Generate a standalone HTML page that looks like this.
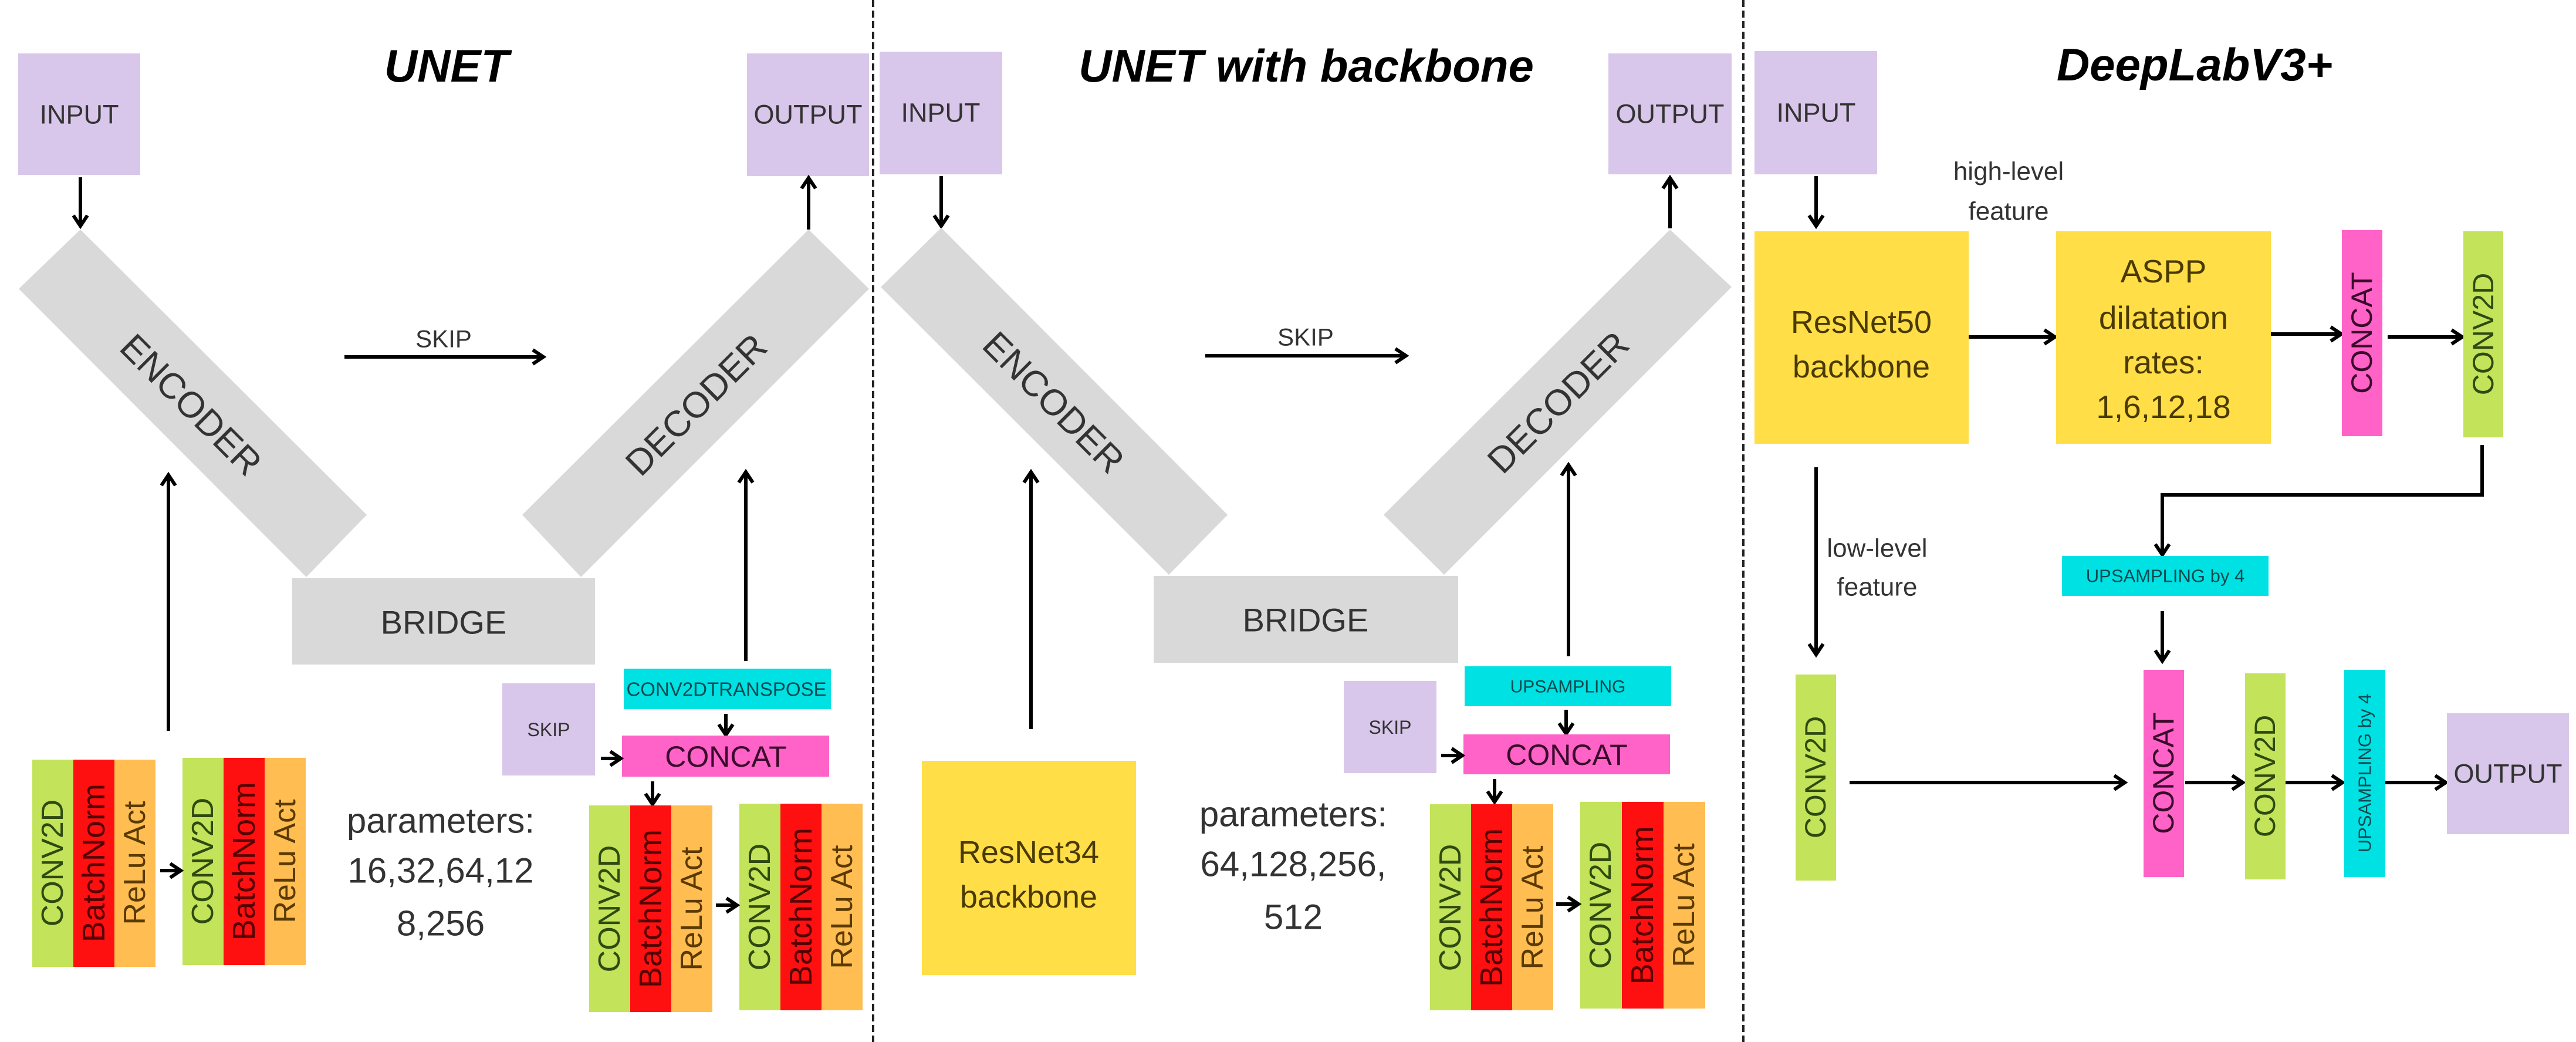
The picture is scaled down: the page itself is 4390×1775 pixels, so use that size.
<!DOCTYPE html>
<html><head><meta charset="utf-8"><style>
html,body{margin:0;padding:0;background:#fff}
svg{display:block}
text{font-family:"Liberation Sans",sans-serif;fill:#333}
.t{font-weight:bold;font-style:italic;fill:#000;font-size:78px}
.c{text-anchor:middle;dominant-baseline:central}
.ln{stroke:#000;stroke-width:6;fill:none}
</style></head><body>
<svg width="4390" height="1775" viewBox="0 0 4390 1775" xmlns="http://www.w3.org/2000/svg">
<defs>
<marker id="a" viewBox="0 0 30 30" markerWidth="30" markerHeight="30" refX="24" refY="15" orient="auto" markerUnits="userSpaceOnUse">
<path d="M6,3 L24,15 L6,27" stroke="#000" stroke-width="6" fill="none"/>
</marker>
</defs>

<!-- dashed separators -->
<line x1="1488" y1="0" x2="1488" y2="1775" stroke="#222" stroke-width="4" stroke-dasharray="12,6"/>
<line x1="2971" y1="0" x2="2971" y2="1775" stroke="#222" stroke-width="4" stroke-dasharray="12,6"/>

<!-- ===== UNET ===== -->
<text class="t c" x="761" y="112">UNET</text>
<rect x="31" y="91" width="208" height="207" fill="#d8c7ea"/>
<text class="c" x="135" y="195" font-size="45">INPUT</text>
<rect x="1273" y="91" width="208" height="209" fill="#d8c7ea"/>
<text class="c" x="1377" y="195" font-size="45">OUTPUT</text>
<line class="ln" x1="137" y1="302" x2="137" y2="385" marker-end="url(#a)"/>
<line class="ln" x1="1378" y1="391" x2="1378" y2="303" marker-end="url(#a)"/>
<polygon points="32,492 137,391 625,877 522,983" fill="#d9d9d9"/>
<polygon points="890,877 990,983 1481,492 1378,391" fill="#d9d9d9"/>
<text class="c" x="325" y="690" font-size="62" transform="rotate(45 325 690)">ENCODER</text>
<text class="c" x="1187" y="690" font-size="62" transform="rotate(-45 1187 690)">DECODER</text>
<line class="ln" x1="587" y1="608" x2="926" y2="608" marker-end="url(#a)"/>
<text class="c" x="756" y="577" font-size="42">SKIP</text>
<rect x="498" y="985" width="516" height="147" fill="#d9d9d9"/>
<text class="c" x="756" y="1060" font-size="56">BRIDGE</text>
<line class="ln" x1="287" y1="1245" x2="287" y2="809" marker-end="url(#a)"/>
<line class="ln" x1="1271" y1="1126" x2="1271" y2="804" marker-end="url(#a)"/>
<rect x="1063" y="1139" width="353" height="69" fill="#00e1e3"/>
<text class="c" x="1238" y="1174" font-size="33" fill="#0a4a50" style="fill:#0a4a50">CONV2DTRANSPOSE</text>
<rect x="856" y="1164" width="158" height="157" fill="#d8c7ea"/>
<text class="c" x="935" y="1243" font-size="32">SKIP</text>
<line class="ln" x1="1237" y1="1216" x2="1237" y2="1252" marker-end="url(#a)"/>
<rect x="1060" y="1253" width="353" height="70" fill="#ff63c8"/>
<text class="c" x="1237" y="1289" font-size="50" style="fill:#3a0a2a">CONCAT</text>
<line class="ln" x1="1024" y1="1292" x2="1058" y2="1292" marker-end="url(#a)"/>
<line class="ln" x1="1112" y1="1331" x2="1112" y2="1370" marker-end="url(#a)"/>

<!-- triples UNET left -->
<g transform="translate(55,1294)">
<rect x="0" y="0" width="70" height="353" fill="#c2e35a"/><rect x="70" y="0" width="70" height="353" fill="#ff1010"/><rect x="140" y="0" width="70" height="353" fill="#ffbd52"/>
<text class="c" x="35" y="176" font-size="52" transform="rotate(-90 35 176)" style="fill:#2f4a10">CONV2D</text>
<text class="c" x="105" y="176" font-size="54" transform="rotate(-90 105 176)" style="fill:#500">BatchNorm</text>
<text class="c" x="175" y="176" font-size="52" transform="rotate(-90 175 176)" style="fill:#5a3a00">ReLu Act</text>
</g>
<g transform="translate(311,1291)">
<rect x="0" y="0" width="70" height="353" fill="#c2e35a"/><rect x="70" y="0" width="70" height="353" fill="#ff1010"/><rect x="140" y="0" width="70" height="353" fill="#ffbd52"/>
<text class="c" x="35" y="176" font-size="52" transform="rotate(-90 35 176)" style="fill:#2f4a10">CONV2D</text>
<text class="c" x="105" y="176" font-size="54" transform="rotate(-90 105 176)" style="fill:#500">BatchNorm</text>
<text class="c" x="175" y="176" font-size="52" transform="rotate(-90 175 176)" style="fill:#5a3a00">ReLu Act</text>
</g>
<line class="ln" x1="273" y1="1483" x2="308" y2="1483" marker-end="url(#a)"/>
<text class="c" x="751" y="1398" font-size="60">parameters:</text>
<text class="c" x="751" y="1483" font-size="60">16,32,64,12</text>
<text class="c" x="751" y="1573" font-size="60">8,256</text>
<!-- triples UNET right -->
<g transform="translate(1004,1372)">
<rect x="0" y="0" width="70" height="352" fill="#c2e35a"/><rect x="70" y="0" width="70" height="352" fill="#ff1010"/><rect x="140" y="0" width="70" height="352" fill="#ffbd52"/>
<text class="c" x="35" y="176" font-size="52" transform="rotate(-90 35 176)" style="fill:#2f4a10">CONV2D</text>
<text class="c" x="105" y="176" font-size="54" transform="rotate(-90 105 176)" style="fill:#500">BatchNorm</text>
<text class="c" x="175" y="176" font-size="52" transform="rotate(-90 175 176)" style="fill:#5a3a00">ReLu Act</text>
</g>
<g transform="translate(1260,1369)">
<rect x="0" y="0" width="70" height="352" fill="#c2e35a"/><rect x="70" y="0" width="70" height="352" fill="#ff1010"/><rect x="140" y="0" width="70" height="352" fill="#ffbd52"/>
<text class="c" x="35" y="176" font-size="52" transform="rotate(-90 35 176)" style="fill:#2f4a10">CONV2D</text>
<text class="c" x="105" y="176" font-size="54" transform="rotate(-90 105 176)" style="fill:#500">BatchNorm</text>
<text class="c" x="175" y="176" font-size="52" transform="rotate(-90 175 176)" style="fill:#5a3a00">ReLu Act</text>
</g>
<line class="ln" x1="1220" y1="1542" x2="1256" y2="1542" marker-end="url(#a)"/>

<!-- ===== UNET with backbone ===== -->
<text class="t c" x="2226" y="112">UNET with backbone</text>
<rect x="1499" y="88" width="209" height="209" fill="#d8c7ea"/>
<text class="c" x="1603" y="192" font-size="45">INPUT</text>
<rect x="2741" y="91" width="210" height="206" fill="#d8c7ea"/>
<text class="c" x="2846" y="194" font-size="45">OUTPUT</text>
<line class="ln" x1="1604" y1="300" x2="1604" y2="385" marker-end="url(#a)"/>
<line class="ln" x1="2846" y1="389" x2="2846" y2="303" marker-end="url(#a)"/>
<polygon points="1501,489 1604,388 2092,877 1992,979" fill="#d9d9d9"/>
<polygon points="2358,877 2461,979 2951,489 2846,391" fill="#d9d9d9"/>
<text class="c" x="1795" y="686" font-size="62" transform="rotate(45 1795 686)">ENCODER</text>
<text class="c" x="2656" y="686" font-size="62" transform="rotate(-45 2656 686)">DECODER</text>
<line class="ln" x1="2054" y1="606" x2="2396" y2="606" marker-end="url(#a)"/>
<text class="c" x="2225" y="574" font-size="42">SKIP</text>
<rect x="1966" y="981" width="519" height="148" fill="#d9d9d9"/>
<text class="c" x="2225" y="1056" font-size="56">BRIDGE</text>
<line class="ln" x1="1757" y1="1242" x2="1757" y2="804" marker-end="url(#a)"/>
<rect x="1571" y="1296" width="365" height="365" fill="#ffde47"/>
<text class="c" x="1753" y="1452" font-size="54" style="fill:#4a3a00">ResNet34</text>
<text class="c" x="1753" y="1528" font-size="54" style="fill:#4a3a00">backbone</text>
<line class="ln" x1="2673" y1="1118" x2="2673" y2="792" marker-end="url(#a)"/>
<rect x="2496" y="1135" width="352" height="68" fill="#00e1e3"/>
<text class="c" x="2672" y="1170" font-size="30" style="fill:#0a4a50">UPSAMPLING</text>
<rect x="2290" y="1160" width="158" height="157" fill="#d8c7ea"/>
<text class="c" x="2369" y="1239" font-size="32">SKIP</text>
<line class="ln" x1="2669" y1="1209" x2="2669" y2="1250" marker-end="url(#a)"/>
<rect x="2494" y="1251" width="352" height="68" fill="#ff63c8"/>
<text class="c" x="2670" y="1286" font-size="50" style="fill:#3a0a2a">CONCAT</text>
<line class="ln" x1="2456" y1="1287" x2="2492" y2="1287" marker-end="url(#a)"/>
<line class="ln" x1="2547" y1="1327" x2="2547" y2="1366" marker-end="url(#a)"/>
<g transform="translate(2437,1370)">
<rect x="0" y="0" width="70" height="351" fill="#c2e35a"/><rect x="70" y="0" width="70" height="351" fill="#ff1010"/><rect x="140" y="0" width="70" height="351" fill="#ffbd52"/>
<text class="c" x="35" y="176" font-size="52" transform="rotate(-90 35 176)" style="fill:#2f4a10">CONV2D</text>
<text class="c" x="105" y="176" font-size="54" transform="rotate(-90 105 176)" style="fill:#500">BatchNorm</text>
<text class="c" x="175" y="176" font-size="52" transform="rotate(-90 175 176)" style="fill:#5a3a00">ReLu Act</text>
</g>
<g transform="translate(2693,1366)">
<rect x="0" y="0" width="71" height="352" fill="#c2e35a"/><rect x="71" y="0" width="71" height="352" fill="#ff1010"/><rect x="142" y="0" width="71" height="352" fill="#ffbd52"/>
<text class="c" x="35" y="176" font-size="52" transform="rotate(-90 35 176)" style="fill:#2f4a10">CONV2D</text>
<text class="c" x="106" y="176" font-size="54" transform="rotate(-90 106 176)" style="fill:#500">BatchNorm</text>
<text class="c" x="177" y="176" font-size="52" transform="rotate(-90 177 176)" style="fill:#5a3a00">ReLu Act</text>
</g>
<line class="ln" x1="2652" y1="1540" x2="2690" y2="1540" marker-end="url(#a)"/>
<text class="c" x="2204" y="1387" font-size="60">parameters:</text>
<text class="c" x="2204" y="1472" font-size="60">64,128,256,</text>
<text class="c" x="2204" y="1562" font-size="60">512</text>

<!-- ===== DeepLabV3+ ===== -->
<text class="t c" x="3740" y="110">DeepLabV3+</text>
<rect x="2990" y="87" width="209" height="210" fill="#d8c7ea"/>
<text class="c" x="3095" y="192" font-size="45">INPUT</text>
<line class="ln" x1="3095" y1="300" x2="3095" y2="385" marker-end="url(#a)"/>
<text class="c" x="3423" y="292" font-size="44">high-level</text>
<text class="c" x="3423" y="360" font-size="44">feature</text>
<rect x="2990" y="394" width="365" height="362" fill="#ffde47"/>
<text class="c" x="3172" y="549" font-size="54" style="fill:#4a3a00">ResNet50</text>
<text class="c" x="3172" y="625" font-size="54" style="fill:#4a3a00">backbone</text>
<line class="ln" x1="3355" y1="574" x2="3502" y2="574" marker-end="url(#a)"/>
<rect x="3504" y="394" width="366" height="362" fill="#ffde47"/>
<text class="c" x="3687" y="462" font-size="55" style="fill:#4a3a00">ASPP</text>
<text class="c" x="3687" y="541" font-size="55" style="fill:#4a3a00">dilatation</text>
<text class="c" x="3687" y="617" font-size="55" style="fill:#4a3a00">rates:</text>
<text class="c" x="3687" y="693" font-size="55" style="fill:#4a3a00">1,6,12,18</text>
<line class="ln" x1="3870" y1="569" x2="3990" y2="569" marker-end="url(#a)"/>
<rect x="3991" y="392" width="69" height="351" fill="#ff63c8"/>
<text class="c" x="4025" y="567" font-size="50" transform="rotate(-90 4025 567)" style="fill:#3a0a2a">CONCAT</text>
<line class="ln" x1="4069" y1="574" x2="4196" y2="574" marker-end="url(#a)"/>
<rect x="4198" y="394" width="68" height="351" fill="#c2e35a"/>
<text class="c" x="4232" y="569" font-size="50" transform="rotate(-90 4232 569)" style="fill:#2f4a10">CONV2D</text>
<polyline class="ln" points="4230,758 4230,843 3685,843 3685,945" marker-end="url(#a)"/>
<rect x="3514" y="947" width="352" height="68" fill="#00e1e3"/>
<text class="c" x="3690" y="981" font-size="31" style="fill:#0a4a50">UPSAMPLING by 4</text>
<line class="ln" x1="3685" y1="1041" x2="3685" y2="1126" marker-end="url(#a)"/>
<line class="ln" x1="3095" y1="796" x2="3095" y2="1115" marker-end="url(#a)"/>
<text class="c" x="3199" y="934" font-size="44">low-level</text>
<text class="c" x="3199" y="1000" font-size="44">feature</text>
<rect x="3060" y="1149" width="69" height="351" fill="#c2e35a"/>
<text class="c" x="3094" y="1324" font-size="50" transform="rotate(-90 3094 1324)" style="fill:#2f4a10">CONV2D</text>
<line class="ln" x1="3152" y1="1333" x2="3621" y2="1333" marker-end="url(#a)"/>
<rect x="3653" y="1141" width="69" height="353" fill="#ff63c8"/>
<text class="c" x="3687" y="1317" font-size="50" transform="rotate(-90 3687 1317)" style="fill:#3a0a2a">CONCAT</text>
<line class="ln" x1="3724" y1="1333" x2="3822" y2="1333" marker-end="url(#a)"/>
<rect x="3826" y="1147" width="69" height="351" fill="#c2e35a"/>
<text class="c" x="3860" y="1322" font-size="50" transform="rotate(-90 3860 1322)" style="fill:#2f4a10">CONV2D</text>
<line class="ln" x1="3895" y1="1333" x2="3992" y2="1333" marker-end="url(#a)"/>
<rect x="3995" y="1141" width="70" height="353" fill="#00e1e3"/>
<text class="c" x="4030" y="1317" font-size="31" transform="rotate(-90 4030 1317)" style="fill:#0a4a50">UPSAMPLING by 4</text>
<line class="ln" x1="4065" y1="1333" x2="4168" y2="1333" marker-end="url(#a)"/>
<rect x="4170" y="1215" width="208" height="206" fill="#d8c7ea"/>
<text class="c" x="4274" y="1318" font-size="45">OUTPUT</text>
</svg>
</body></html>
